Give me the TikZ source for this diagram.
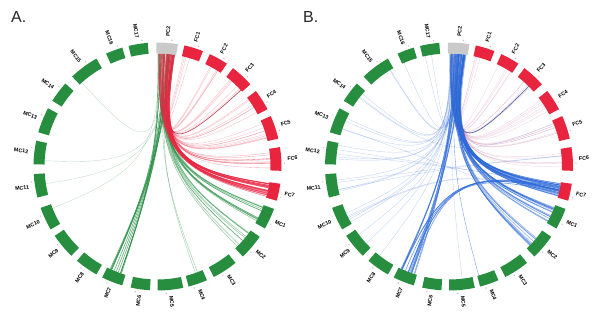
\documentclass[tikz,border=0pt]{standalone}
\usepackage{fontspec}
\setmainfont{Liberation Sans}
\usepackage{xcolor}
\usepackage{tikz}

\definecolor{segGreen}{RGB}{38,142,62}
\definecolor{segRed}{RGB}{233,36,62}
\definecolor{segGrey}{RGB}{202,202,202}
\definecolor{chGreen}{RGB}{36,140,64}
\definecolor{chRed}{RGB}{232,38,66}
\definecolor{chBlue}{RGB}{45,105,215}
\definecolor{chPink}{RGB}{205,115,160}

\tikzset{
  seglabel/.style={font=\bfseries\fontsize{5.3}{5.3}\selectfont, inner sep=0pt, text=black},
  tickdot/.style={fill=gray!55},
  chordthin/.style={line width=0.35pt, opacity=0.3},
  chordband/.style={line width=0.6pt, opacity=0.6},
  chorddark/.style={line width=0.6pt, opacity=0.85},
  panellabel/.style={font=\fontsize{16}{16}\selectfont, anchor=west, inner sep=0pt, text=black!85}
}
\newcommand{\rin}{113}
\newcommand{\rout}{124}
\newcommand{\rctl}{16}

% name / mid angle / half width / colour
\newcommand{\seglist}{PC2/85.5/5/segGrey, FC1/73/4.5/segRed, FC2/60.5/4.5/segRed,
  FC3/47/5.5/segRed, FC4/32.5/5/segRed, FC5/18.5/5.5/segRed, FC6/3.5/5.5/segRed,
  FC7/-12/4/segRed, MC1/-25/5/segGreen, MC2/-40.5/6/segGreen, MC3/-57/6/segGreen,
  MC4/-71/4.5/segGreen, MC5/-84/6/segGreen, MC6/262/4.5/segGreen, MC7/248.5/5/segGreen,
  MC8/235/5.5/segGreen, MC9/220/6/segGreen, MC10/205/5.5/segGreen, MC11/189/5.5/segGreen,
  MC12/173.5/5.5/segGreen, MC13/158/6/segGreen, MC14/143/5/segGreen, MC15/126.5/7/segGreen,
  MC16/110.5/4/segGreen, MC17/99/4.5/segGreen}
\foreach \nm/\mid/\hw/\col in \seglist {%
  \expandafter\xdef\csname sm\nm\endcsname{\mid}%
  \expandafter\xdef\csname sw\nm\endcsname{\hw}}

\newcommand{\drawring}[1]{%
  \foreach \nm/\mid/\hw/\col in \seglist {
    \fill[\col] (\mid-\hw:\rin) arc[start angle=\mid-\hw, end angle=\mid+\hw, radius=\rin]
      -- (\mid+\hw:\rout) arc[start angle=\mid+\hw, end angle=\mid-\hw, radius=\rout] -- cycle;
    \fill[tickdot] (\mid-2:127) circle[radius=0.7];
    \pgfmathtruncatemacro\flip{(\mid>90)&&(\mid<270)}
    \ifnum\flip=1
      \node[seglabel, anchor=east, rotate=\mid-180] (#1\nm) at (\mid:130) {\nm};
    \else
      \node[seglabel, anchor=west, rotate=\mid] (#1\nm) at (\mid:130) {\nm};
    \fi
  }%
}
% from, to, count, style
\newcommand{\bundle}[4]{%
  \foreach \k in {1,...,#3}{
    \pgfmathsetmacro\pa{\csname sm#1\endcsname+(2*rnd-1)*0.85*\csname sw#1\endcsname}
    \pgfmathsetmacro\pb{\csname sm#2\endcsname+(2*rnd-1)*0.85*\csname sw#2\endcsname}
    \draw[#4] (\pa:\rin) .. controls (\pa:\rctl) and (\pb:\rctl) .. (\pb:\rin);
  }%
}

\begin{document}
\begin{tikzpicture}[x=1pt, y=1pt]
  \useasboundingbox (0,0) rectangle (600,319);
  \pgfmathsetseed{7}

  \node[panellabel] (labA) at (11,302) {A.};
  \node[panellabel] (labB) at (303,302) {B.};

  % panel A
  \begin{scope}[shift={(157.5,152.5)}]
    \bundle{PC2}{MC10}{1}{chordthin, chGreen}
    \bundle{PC2}{MC11}{1}{chordthin, chGreen}
    \bundle{PC2}{MC12}{1}{chordthin, chGreen}
    \bundle{PC2}{MC15}{1}{chordthin, chGreen}
    \bundle{PC2}{MC4}{2}{chordthin, chGreen, opacity=0.5}
    \bundle{PC2}{MC7}{12}{chordband, chGreen, opacity=0.7}
    \bundle{PC2}{MC1}{12}{chordband, chGreen, opacity=0.5}
    \bundle{PC2}{MC2}{9}{chordband, chGreen, opacity=0.45}
    \bundle{PC2}{FC1}{4}{chordthin, chRed}
    \bundle{PC2}{FC2}{5}{chordthin, chRed}
    \bundle{PC2}{FC3}{5}{chordthin, chRed}
    \bundle{PC2}{FC3}{1}{chorddark, chRed!75!black}
    \bundle{PC2}{FC4}{6}{chordthin, chRed}
    \bundle{PC2}{FC5}{9}{chordthin, chRed}
    \bundle{PC2}{FC6}{10}{chordthin, chRed, opacity=0.4}
    \bundle{PC2}{FC7}{30}{chordband, chRed}
    \drawring{a}
  \end{scope}

  % panel B
  \begin{scope}[shift={(449,152.5)}]
    \bundle{PC2}{FC1}{4}{chordthin, chPink}
    \bundle{PC2}{FC2}{5}{chordthin, chPink}
    \bundle{PC2}{FC3}{5}{chordthin, chPink}
    \bundle{PC2}{FC4}{6}{chordthin, chPink}
    \bundle{PC2}{FC5}{8}{chordthin, chPink}
    \bundle{PC2}{FC6}{6}{chordthin, chPink}
    \bundle{PC2}{MC17}{2}{chordthin, chBlue}
    \bundle{PC2}{MC16}{1}{chordthin, chBlue}
    \bundle{PC2}{MC15}{2}{chordthin, chBlue}
    \bundle{PC2}{MC14}{2}{chordthin, chBlue}
    \bundle{PC2}{MC13}{3}{chordthin, chBlue}
    \bundle{PC2}{MC12}{3}{chordthin, chBlue}
    \bundle{PC2}{MC11}{3}{chordthin, chBlue}
    \bundle{PC2}{MC10}{3}{chordthin, chBlue}
    \bundle{PC2}{MC9}{2}{chordthin, chBlue}
    \bundle{PC2}{MC8}{1}{chordthin, chBlue}
    \bundle{PC2}{MC5}{1}{chordthin, chBlue}
    \bundle{PC2}{MC4}{1}{chordthin, chBlue, opacity=0.7}
    \bundle{MC12}{FC7}{2}{chordthin, chBlue}
    \bundle{MC11}{FC6}{2}{chordthin, chBlue}
    \bundle{MC10}{FC7}{2}{chordthin, chBlue}
    \bundle{MC13}{MC1}{1}{chordthin, chBlue}
    \bundle{MC14}{FC5}{1}{chordthin, chBlue}
    \bundle{PC2}{FC3}{1}{chorddark, chBlue!70!black}
    \bundle{PC2}{MC7}{12}{chordband, chBlue, opacity=0.6}
    \bundle{PC2}{MC1}{14}{chordband, chBlue}
    \bundle{PC2}{MC2}{10}{chordband, chBlue, opacity=0.5}
    \bundle{FC7}{MC7}{6}{chordband, chBlue, opacity=0.7}
    \bundle{PC2}{FC7}{30}{chordband, chBlue, opacity=0.6}
    \drawring{b}
  \end{scope}
\end{tikzpicture}
\end{document}
